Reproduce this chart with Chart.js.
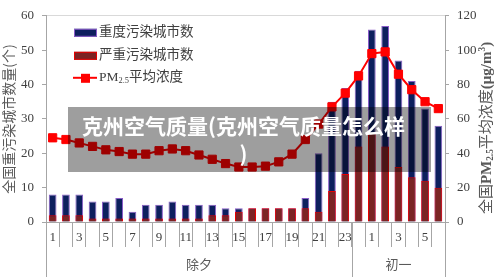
<!DOCTYPE html>
<html>
<head>
<meta charset="utf-8">
<script src="https://cdn.jsdelivr.net/npm/chart.js@4.4.0/dist/chart.umd.min.js"></script>
<style>
    html, body { margin: 0; padding: 0; background: #fff; }
    #wrap { position: relative; width: 500px; height: 280px; }
    #overlay {
        position: absolute; left: 68px; top: 107px;
        width: 351px; height: 61px; padding: 4px 12px 0 0;
        background: rgba(0, 0, 0, 0.38); color: #fff;
        font: bold 21px/28px "Noto Sans CJK SC", sans-serif;
        text-align: center;
    }
</style>
</head>
<body>
<div id="wrap">
    <canvas id="chart" width="500" height="280"></canvas>
    <div id="overlay">克州空气质量(克州空气质量怎么样<br>)</div>
</div>
<script>
const hours = ['1', '', '3', '', '5', '', '7', '', '9', '', '11', '', '13', '', '15', '', '17', '', '19', '', '21', '', '23',
               '', '1', '', '3', '', '5', ''];
const days = ['除夕', '初一'];
const dayStart = [0, 23];
const heavy = [8, 8, 8, 6, 6, 7, 3, 5, 5, 6, 5, 5, 5, 4, 4, 4, 4, 4, 4, 7, 20, 35, 39, 44, 56, 57, 47, 41, 33, 28];
const severe = [2, 2, 2, 1, 1, 1, 1, 1, 1, 1, 1, 1, 2, 2, 3, 4, 4, 4, 4, 4, 3, 9, 14, 22, 26, 22, 16, 13, 12, 10];
const pm25 = [49, 48, 46, 44, 42, 41, 39.5, 39.5, 41.5, 42.5, 41.5, 39, 36.5, 34, 32, 32, 32.5, 35, 39.5, 48,
              57, 67, 75, 85, 98, 99, 86, 77, 70, 66];
const leftTicks = [0, 10, 20, 30, 40, 50, 60];
const rightTicks = [0, 20, 40, 60, 80, 100, 120];

const serif = '"Liberation Serif", "Noto Sans CJK SC", serif';
const axisGray = '#a6a6a6';
const textGray = '#404040';

// draws text made of pieces (bold / subscript / superscript)
function drawRich(ctx, parts, x, y, size) {
    parts.forEach(p => {
        const s = (p.sub || p.sup) ? size * 0.62 : size;
        ctx.font = (p.b ? 'bold ' : '') + s + 'px ' + serif;
        const dy = p.sub ? size * 0.22 : p.sup ? -size * 0.3 : 0;
        ctx.fillText(p.t, x, y + dy);
        x += ctx.measureText(p.t).width;
    });
    return x;
}
function richWidth(ctx, parts, size) {
    let w = 0;
    parts.forEach(p => {
        const s = (p.sub || p.sup) ? size * 0.62 : size;
        ctx.font = (p.b ? 'bold ' : '') + s + 'px ' + serif;
        w += ctx.measureText(p.t).width;
    });
    return w;
}
function labelParts(label) {
    const bits = label.split('2.5');
    if (bits.length < 2) return [{ t: label }];
    return [{ t: bits[0] }, { t: '2.5', sub: true }, { t: bits[1] }];
}

const decor = {
    id: 'decor',
    afterDraw(chart) {
        const ctx = chart.ctx;
        const area = chart.chartArea;
        const xs = chart.scales.x;
        const half = (xs.getPixelForValue(1) - xs.getPixelForValue(0)) / 2;

        // group separators and group names
        const edges = dayStart.map(i => xs.getPixelForValue(i) - half);
        edges.push(xs.getPixelForValue(hours.length - 1) + half);
        ctx.save();
        ctx.strokeStyle = axisGray;
        ctx.lineWidth = 1;
        edges.forEach(x => {
            ctx.beginPath();
            ctx.moveTo(Math.round(x) + 0.5, area.bottom);
            ctx.lineTo(Math.round(x) + 0.5, 277);
            ctx.stroke();
        });
        ctx.fillStyle = '#595959';
        ctx.font = '13px "Noto Sans CJK SC", sans-serif';
        ctx.textAlign = 'center';
        ctx.textBaseline = 'middle';
        days.forEach((d, k) => ctx.fillText(d, (edges[k] + edges[k + 1]) / 2, 264));
        ctx.restore();

        // legend inside the plot, one item per row
        ctx.save();
        ctx.textBaseline = 'middle';
        ctx.fillStyle = textGray;
        const x0 = area.left + 28;
        const rows = [area.top + 17, area.top + 40, area.top + 62];
        const sets = chart.data.datasets.slice().sort((a, b) => b.order - a.order);
        sets.forEach((ds, k) => {
            const y = rows[k];
            if (ds.type === 'line') {
                ctx.strokeStyle = ds.borderColor;
                ctx.lineWidth = 2;
                ctx.beginPath();
                ctx.moveTo(x0 - 1, y);
                ctx.lineTo(x0 + 23, y);
                ctx.stroke();
                ctx.fillStyle = ds.backgroundColor;
                ctx.fillRect(x0 + 7, y - 4, 9, 9);
            } else {
                ctx.fillStyle = ds.backgroundColor;
                ctx.fillRect(x0, y - 4, 23, 8);
                ctx.strokeStyle = ds.borderColor;
                ctx.lineWidth = 1;
                ctx.strokeRect(x0 + 0.5, y - 3.5, 22, 7);
            }
            ctx.fillStyle = textGray;
            drawRich(ctx, labelParts(ds.label), x0 + 25, y, 13.5);
        });
        ctx.restore();

        // right axis title, reading bottom to top
        const title = [{ t: '全国' }, { t: 'PM', b: true }, { t: '2.5', b: true, sub: true }, { t: '平均浓度' },
                       { t: '(μg/m', b: true }, { t: '3', b: true, sup: true }, { t: ')', b: true }];
        ctx.save();
        ctx.fillStyle = '#595959';
        ctx.textBaseline = 'middle';
        ctx.translate(487, 128);
        ctx.rotate(-Math.PI / 2);
        const w = richWidth(ctx, title, 15);
        drawRich(ctx, title, -w / 2, 0, 15);
        ctx.restore();
    }
};

const tickFont = { family: serif, size: 13 };

new Chart(document.getElementById('chart'), {
    type: 'bar',
    data: {
        labels: hours,
        datasets: [
            {
                type: 'line',
                label: 'PM2.5平均浓度',
                data: pm25,
                yAxisID: 'y1',
                borderColor: '#ff0000',
                backgroundColor: '#ff0000',
                borderWidth: 2,
                pointStyle: 'rect',
                pointRadius: 5.8,
                pointBorderWidth: 1,
                tension: 0,
                order: 0
            },
            {
                label: '严重污染城市数',
                data: severe,
                backgroundColor: '#7b2424',
                borderColor: '#e80000',
                borderWidth: 1,
                grouped: false,
                barPercentage: 0.58,
                categoryPercentage: 1,
                order: 1
            },
            {
                label: '重度污染城市数',
                data: heavy,
                backgroundColor: '#0d1f5e',
                borderColor: '#8a5cc8',
                borderWidth: 1,
                grouped: false,
                barPercentage: 0.58,
                categoryPercentage: 1,
                order: 2
            }
        ]
    },
    options: {
        responsive: false,
        animation: false,
        layout: { padding: { top: 12, right: 0, left: 0, bottom: 0 } },
        plugins: { legend: { display: false }, tooltip: { enabled: false } },
        scales: {
            x: {
                grid: { offset: true, drawOnChartArea: false, tickLength: 25, color: axisGray },
                border: { color: axisGray },
                ticks: { autoSkip: false, maxRotation: 0, padding: -17, color: textGray, font: tickFont },
                afterFit(s) { s.height = 58; }
            },
            y: {
                position: 'left',
                min: 0,
                max: 60,
                afterBuildTicks(s) { s.ticks = leftTicks.map(v => ({ value: v })); },
                ticks: { padding: 8, color: textGray, font: tickFont },
                grid: {
                    color: c => c.tick && c.tick.value === 60 ? '#d9d9d9' : 'rgba(0,0,0,0)',
                    tickColor: axisGray,
                    tickLength: 4
                },
                border: { color: axisGray },
                title: {
                    display: true,
                    text: '全国重污染城市数量(个)',
                    color: '#595959',
                    padding: 0,
                    font: { family: '"Noto Sans CJK SC", sans-serif', size: 14 }
                },
                afterFit(s) { s.width = 46; }
            },
            y1: {
                position: 'right',
                min: 0,
                max: 120,
                afterBuildTicks(s) { s.ticks = rightTicks.map(v => ({ value: v })); },
                ticks: { padding: 8, color: textGray, font: tickFont },
                grid: { drawOnChartArea: false, tickLength: 4, color: axisGray },
                border: { color: axisGray },
                afterFit(s) { s.width = 55; }
            }
        }
    },
    plugins: [decor]
});
</script>
</body>
</html>
